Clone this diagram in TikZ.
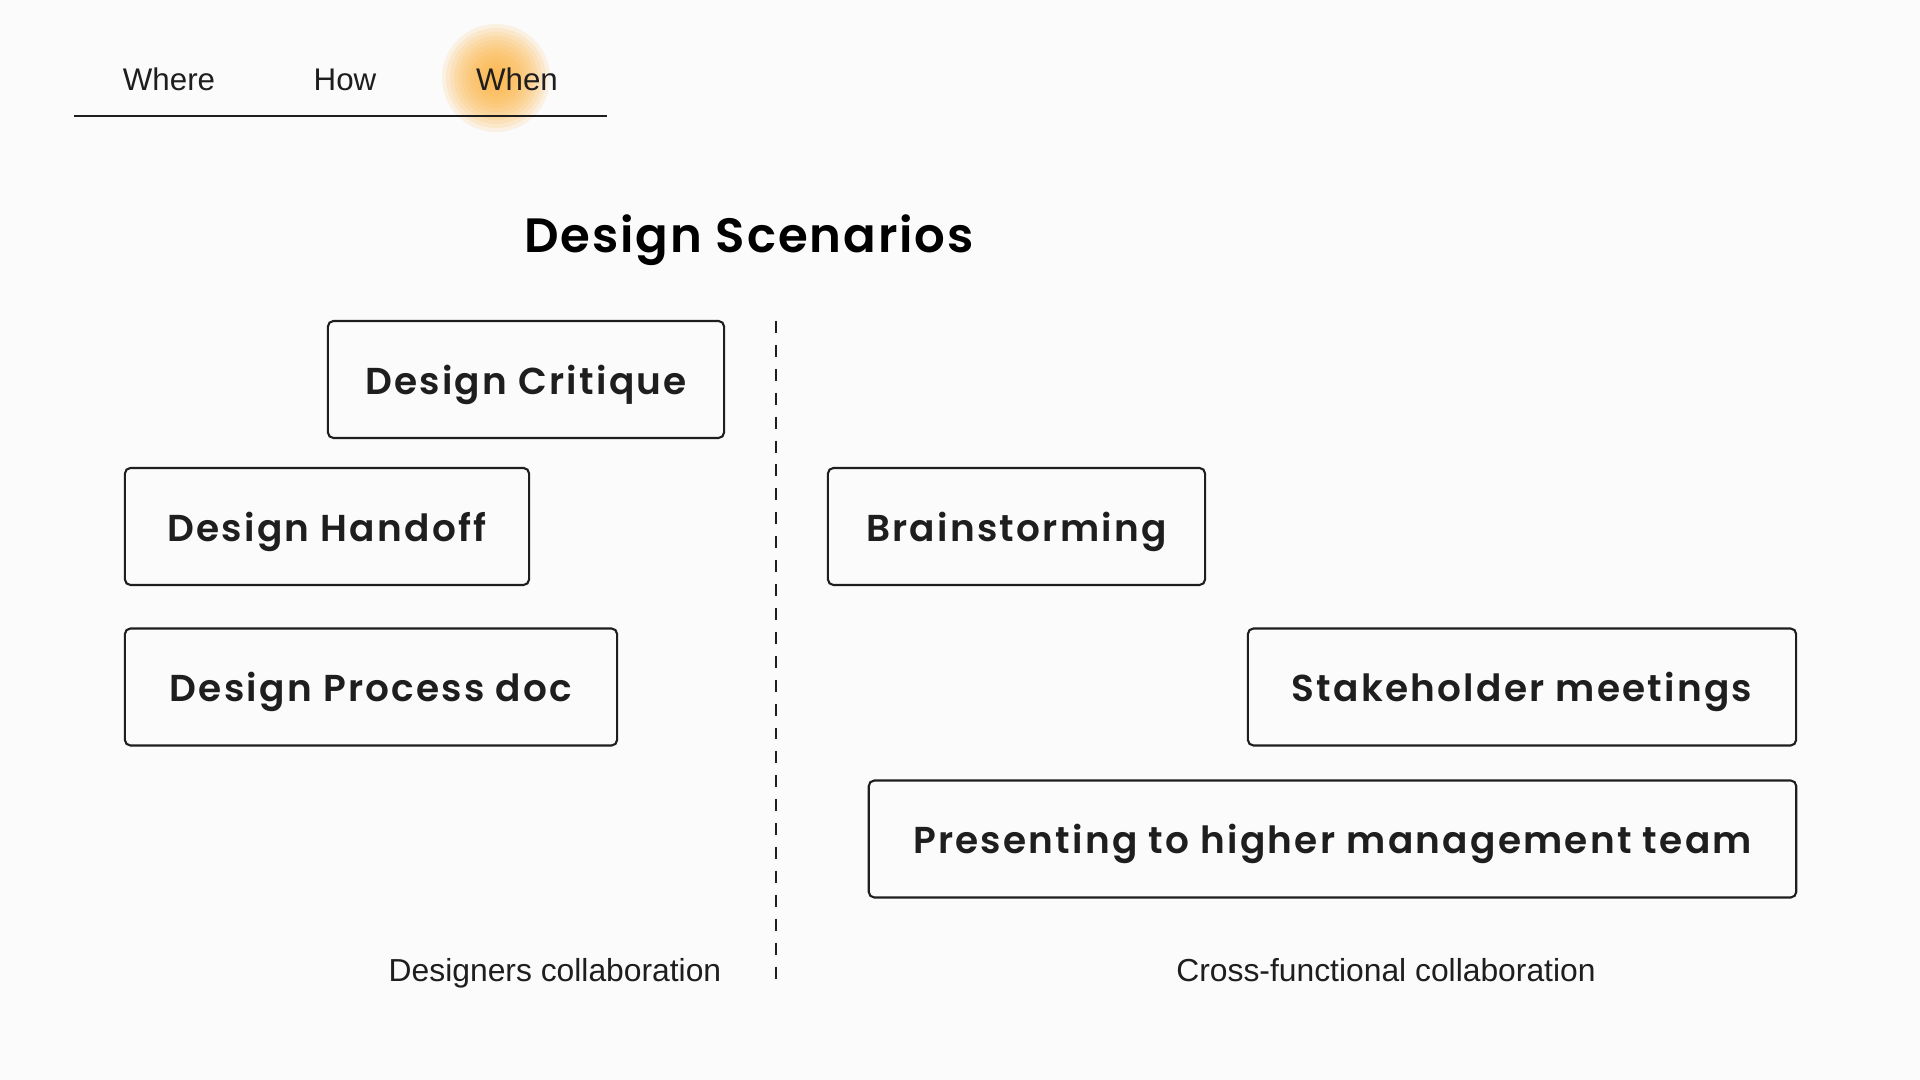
\documentclass[tikz,border=0pt]{standalone}
\usepackage{fontspec}
\setmainfont{Liberation Sans}
\newfontfamily\boxfont[LetterSpace=6]{Poppins SemiBold}
\newfontfamily\titlefont[LetterSpace=4]{Poppins SemiBold}
\definecolor{sfondo}{HTML}{FBFBFB}
\definecolor{inchiostro}{HTML}{1E1E1E}
\definecolor{alone}{HTML}{FFB23A}
\begin{document}
\begin{tikzpicture}[x=0.01cm, y=-0.01cm,
    scheda/.style={font=\fontsize{8.9}{11}\selectfont, text=inchiostro, anchor=base},
    scenario/.style={draw=inchiostro, line width=0.6pt, rounded corners=1.6pt,
        minimum height=1.17cm, inner sep=0pt, text depth=0pt, text=inchiostro,
        font=\boxfont\fontsize{10.65}{12}\selectfont},
    gruppo/.style={font=\fontsize{9.05}{10}\selectfont, text=inchiostro, anchor=base}]
        % sfondo
        \fill[sfondo] (0,0) rectangle (1920,1080);
        \useasboundingbox (0,0) rectangle (1920,1080);

        % alone dietro la scheda attiva
        \foreach \r in {54,50,...,6}
            \fill[alone, opacity=0.13] (496,78) circle (\r);

        % schede in alto
        \node[scheda] (where) at (169,91) {Where};
        \node[scheda] (how) at (345,91) {How};
        \node[scheda] (when) at (517,91) {When};
        \coordinate (lineaA) at (74,116);
        \coordinate (lineaB) at (607,116);
        \draw[inchiostro, line width=0.35pt] (lineaA) -- (lineaB);

        % titolo
        \node[text=black, font=\titlefont\fontsize{13.7}{16}\selectfont] (titolo) at (749,240) {Design Scenarios};

        % divisore tratteggiato
        \coordinate (divA) at (776,321);
        \coordinate (divB) at (776,990);
        \draw[inchiostro, line width=0.45pt, dash pattern=on 3.4pt off 3.4pt] (divA) -- (divB);

        % riquadri a sinistra
        \node[scenario, minimum width=3.96cm] (critique) at (526,379.5) {Design Critique};
        \node[scenario, minimum width=4.04cm] (handoff) at (327,526.5) {Design Handoff};
        \node[scenario, minimum width=4.92cm] (process) at (371,687) {Design Process doc};

        % riquadri a destra
        \node[scenario, minimum width=3.77cm] (brainstorm) at (1016.5,526.5) {Brainstorming};
        \node[scenario, minimum width=5.48cm] (stakeholder) at (1522,687) {Stakeholder meetings};
        \node[scenario, minimum width=9.27cm] (presenting) at (1332.5,839) {Presenting to higher management team};

        % didascalie
        \node[gruppo] (designers) at (555,982) {Designers collaboration};
        \node[gruppo] (cross) at (1386,982) {Cross-functional collaboration};
    \end{tikzpicture}
\end{document}
